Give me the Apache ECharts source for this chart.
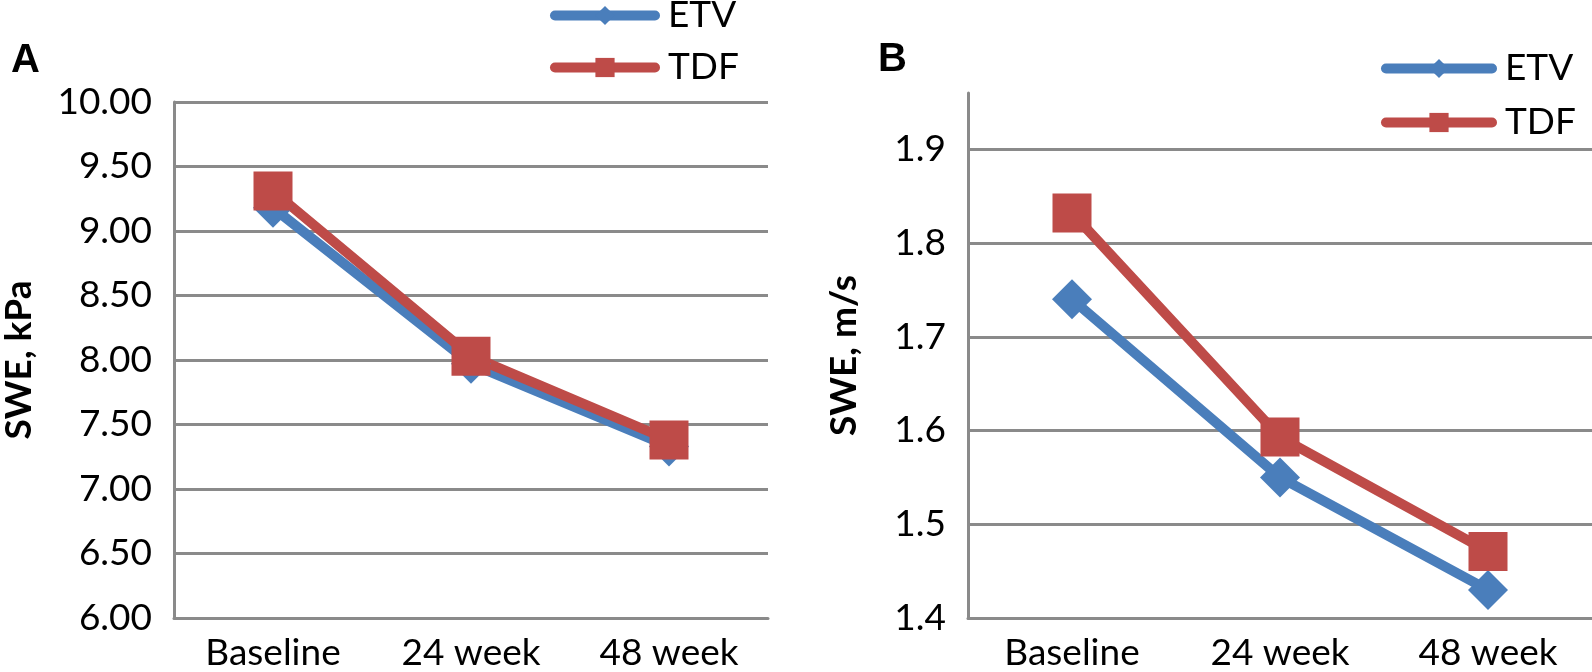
<!DOCTYPE html>
<html>
<head>
<meta charset="utf-8">
<script src="https://cdn.jsdelivr.net/npm/echarts@6/dist/echarts.min.js"></script>
<style>
html,body{margin:0;padding:0;background:#fff;}
#c{width:1592px;height:672px;}
</style>
</head>
<body>
<div id="c"></div>
<script>
const categories = ['Baseline', '24 week', '48 week'];
const seriesNames = ['ETV', 'TDF'];
const kpaETV = [9.18, 7.97, 7.33];
const kpaTDF = [9.31, 8.03, 7.38];
const msETV = [1.74, 1.55, 1.43];
const msTDF = [1.832, 1.593, 1.471];
const panelLabels = ['A', 'B'];
const yNames = ['SWE, kPa', 'SWE, m/s'];

const FONT = 'Lato';
const GRIDC = '#8a8a8a';
const BLUE = '#4a7ebb';
const RED = '#be4b48';

const chart = echarts.init(document.getElementById('c'));

function xAxis(gi) {
  return {
    type: 'category', gridIndex: gi, data: categories, boundaryGap: true,
    axisLine: {lineStyle: {color: GRIDC, width: 3}},
    axisTick: {show: false},
    axisLabel: {color: '#000', fontFamily: FONT, fontSize: 37, margin: 17}
  };
}
function yAxis(gi, min, max, interval, dec, name, gap) {
  return {
    type: 'value', gridIndex: gi, min: min, max: max, interval: interval,
    name: name, nameLocation: 'middle', nameRotate: 90, nameGap: gap,
    nameTextStyle: {color: '#000', fontFamily: FONT, fontWeight: 'bold', fontSize: 37},
    axisLine: {show: true, lineStyle: {color: GRIDC, width: 3}},
    axisTick: {show: false},
    axisLabel: {color: '#000', fontFamily: FONT, fontSize: 37, margin: 22,
      showMaxLabel: gi === 0,
      formatter: v => v.toFixed(dec)},
    splitLine: {show: true, showMinLine: false, showMaxLine: gi === 0, lineStyle: {color: GRIDC, width: 3}}
  };
}
function line(name, gi, data, color, symbol, size) {
  return {
    name: name, type: 'line', xAxisIndex: gi, yAxisIndex: gi, data: data,
    symbol: symbol, symbolSize: size, lineStyle: {color: color, width: 10},
    itemStyle: {color: color}, animation: false
  };
}
const legendCommon = {
  data: seriesNames, orient: 'vertical', itemHeight: 24,
  lineStyle: {width: 10, cap: 'round'},
  textStyle: {fontFamily: FONT, fontSize: 37, color: '#000', padding: [0, 0, 0, 8]}
};

chart.setOption({
  animation: false,
  title: [
    {text: panelLabels[0], left: 6, top: 36, textStyle: {fontFamily: 'Liberation Sans', fontWeight: 'bold', fontSize: 40, color: '#000'}},
    {text: panelLabels[1], left: 873, top: 35, textStyle: {fontFamily: 'Liberation Sans', fontWeight: 'bold', fontSize: 40, color: '#000'}}
  ],
  legend: [
    Object.assign({}, legendCommon, {left: 545, top: -8, itemWidth: 100, itemGap: 15}),
    Object.assign({}, legendCommon, {left: 1376, top: 45, itemWidth: 106, itemGap: 17})
  ],
  grid: [
    {left: 173, top: 102, width: 595, height: 521},
    {left: 968, top: 93, width: 630, height: 528}
  ],
  xAxis: [xAxis(0), xAxis(1)],
  yAxis: [
    yAxis(0, 6, 10, 0.5, 2, yNames[0], 136),
    yAxis(1, 1.4, 1.96, 0.1, 1, yNames[1], 105)
  ],
  series: [
    line(seriesNames[0], 0, kpaETV, BLUE, 'diamond', 40),
    line(seriesNames[1], 0, kpaTDF, RED, 'rect', 39),
    line(seriesNames[0], 1, msETV, BLUE, 'diamond', 40),
    line(seriesNames[1], 1, msTDF, RED, 'rect', 39)
  ]
});
</script>
</body>
</html>
